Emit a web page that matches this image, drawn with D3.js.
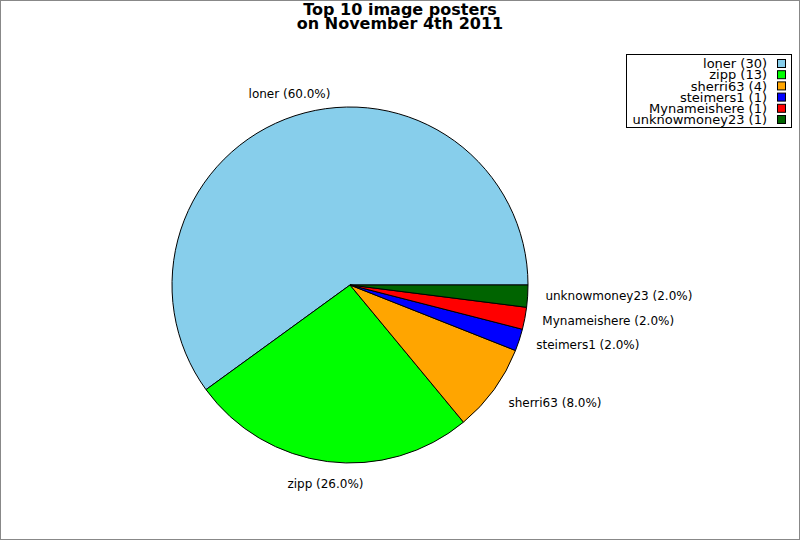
<!DOCTYPE html>
<html>
<head>
<meta charset="utf-8">
<script src="https://cdn.jsdelivr.net/npm/d3@7"></script>
<style>
  body { margin: 0; background: #fff; }
  text { font-family: "DejaVu Sans", sans-serif; }
</style>
</head>
<body>
<svg id="canvas" width="800" height="540"></svg>
<script>
// chart data
let posters = ['loner', 'zipp', 'sherri63', 'steimers1', 'Mynameishere', 'unknowmoney23'];
let counts = [30, 13, 4, 1, 1, 1];
let sliceColors = ['#87CEEB', '#00FF00', '#FFA500', '#0000FF', '#FF0000', '#006400'];
let titleLines = ['Top 10 image posters', 'on November 4th 2011'];

let width = 800, height = 540;
let cx = 350, cy = 285, radius = 178;

let canvas = d3.select('#canvas');

// frame
canvas.append('rect')
    .attr('x', 0.5).attr('y', 0.5)
    .attr('width', width - 1).attr('height', height - 1)
    .attr('fill', '#fff')
    .attr('stroke', '#888');

// title
canvas.append('text')
    .attr('x', 400).attr('y', 15)
    .attr('text-anchor', 'middle')
    .style('font-size', '16px')
    .style('font-weight', 'bold')
    .selectAll('tspan')
    .data(titleLines)
    .enter()
    .append('tspan')
    .attr('x', 400)
    .attr('dy', (d, i) => i === 0 ? 0 : 14)
    .text(d => d);

let total = d3.sum(counts);
let rows = posters.map((p, i) => ({ name: p, value: counts[i], color: sliceColors[i] }));

// counter-clockwise from 3 o'clock, like the original
let pie = d3.pie()
    .sort(null)
    .value(d => d.value)
    .startAngle(Math.PI / 2)
    .endAngle(Math.PI / 2 - 2 * Math.PI);

let arc = d3.arc().innerRadius(0).outerRadius(radius);

let slices = pie(rows);

let pieGroup = canvas.append('g')
    .attr('transform', 'translate(' + cx + ',' + cy + ')');

pieGroup.selectAll('path')
    .data(slices)
    .enter()
    .append('path')
    .attr('d', arc)
    .attr('fill', d => d.data.color)
    .attr('stroke', '#000')
    .attr('stroke-width', 1)
    .attr('stroke-linejoin', 'round');

// labels at 1.1 * radius
pieGroup.selectAll('text.label')
    .data(slices)
    .enter()
    .append('text')
    .attr('class', 'label')
    .each(function(d) {
        let mid = (d.startAngle + d.endAngle) / 2;
        let x = Math.sin(mid) * radius * 1.1;
        let y = -Math.cos(mid) * radius * 1.1;
        let c = Math.sin(mid);
        let anchor = Math.abs(c) < 0.5 ? 'middle' : (c > 0 ? 'start' : 'end');
        let shift = Math.abs(c) < 0.5 ? -Math.cos(mid) * 5 : (-Math.cos(mid) > 0.5 ? 3 : -1);
        d3.select(this)
            .attr('x', x)
            .attr('y', y + shift)
            .attr('dy', '0.35em')
            .attr('text-anchor', anchor)
            .style('font-size', '12px')
            .attr('fill', '#000')
            .text(d.data.name + ' (' + (d.data.value / total * 100).toFixed(1) + '%)');
    });

// legend
let legend = canvas.append('g');
legend.append('rect')
    .attr('x', 626.5).attr('y', 54.5)
    .attr('width', 165).attr('height', 73)
    .attr('fill', '#fff')
    .attr('stroke', '#000');

let rowY = d3.scaleLinear().domain([0, rows.length - 1]).range([63.5, 119.5]);

let items = legend.selectAll('g.item')
    .data(rows)
    .enter()
    .append('g')
    .attr('class', 'item')
    .attr('transform', (d, i) => 'translate(0,' + rowY(i) + ')');

items.append('text')
    .attr('x', 767)
    .attr('dy', '0.36em')
    .attr('text-anchor', 'end')
    .style('font-size', '13px')
    .text(d => d.name + ' (' + d.value + ')');

items.append('rect')
    .attr('x', 777.5).attr('y', -4)
    .attr('width', 8).attr('height', 8)
    .attr('fill', d => d.color)
    .attr('stroke', '#000');
</script>
</body>
</html>
